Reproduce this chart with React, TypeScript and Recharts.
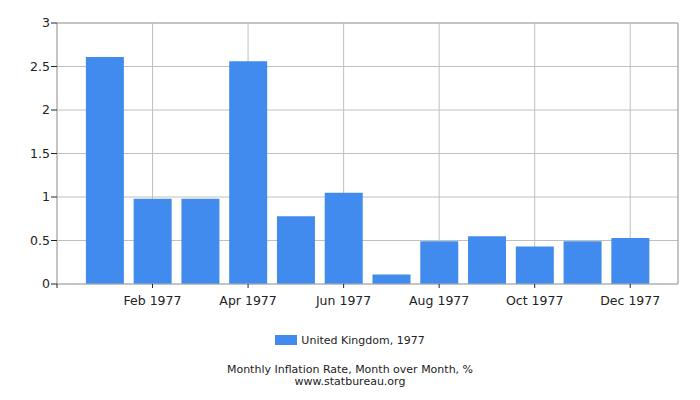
import React from "react";
import { BarChart, Bar, XAxis, YAxis, CartesianGrid, ReferenceLine } from "recharts";

const months = ["Jan", "Feb", "Mar", "Apr", "May", "Jun", "Jul", "Aug", "Sep", "Oct", "Nov", "Dec"];
const year = 1977;
const inflation = [2.61, 0.98, 0.98, 2.56, 0.78, 1.05, 0.11, 0.49, 0.55, 0.43, 0.49, 0.53];
const xTicks = [0, 2, 4, 6, 8, 10, 12];
const yTicks = [0, 0.5, 1, 1.5, 2, 2.5, 3];

const seriesName = "United Kingdom, 1977";
const title = "Monthly Inflation Rate, Month over Month, %";
const source = "www.statbureau.org";

const data = months.map((m, i) => ({ x: i + 1, month: m, value: inflation[i] }));

const FONT = "'DejaVu Sans', sans-serif";
const BAR = "#418bee";

export default function App() {
    const formatX = (v: number) => (v >= 1 && v <= 12 ? `${months[v - 1]} ${year}` : "");

    return (
        <div style={{ position: "absolute", left: 0, top: 0, width: 700, height: 400, background: "#fff", fontFamily: FONT }}>
            <BarChart
                width={700}
                height={400}
                data={data}
                margin={{ top: 23, right: 22, left: 7, bottom: 86 }}
                barSize={38}
            >
                <CartesianGrid stroke="#c0c0c0" />
                <XAxis
                    dataKey="x"
                    type="number"
                    domain={[0, 13]}
                    ticks={xTicks}
                    interval={0}
                    tickFormatter={formatX}
                    stroke="#aaa"
                    tickLine={{ stroke: "#222" }}
                    tickSize={4}
                    tickMargin={8}
                    height={30}
                    tick={{ fill: "#222", fontSize: 12.5, fontFamily: FONT }}
                />
                <YAxis
                    domain={[0, 3]}
                    ticks={yTicks}
                    interval={0}
                    stroke="#aaa"
                    tickLine={{ stroke: "#222" }}
                    tickSize={6}
                    tickMargin={1}
                    width={50}
                    tick={{ fill: "#222", fontSize: 12.5, fontFamily: FONT }}
                />
                <ReferenceLine x={13} stroke="#aaa" />
                <ReferenceLine y={3} stroke="#aaa" />
                <Bar dataKey="value" name={seriesName} fill={BAR} isAnimationActive={false} />
            </BarChart>
            <div style={{ position: "absolute", left: 0, top: 333, width: 700, height: 14, display: "flex", justifyContent: "center", alignItems: "center", fontSize: 11, color: "#222" }}>
                <span style={{ display: "inline-block", width: 22, height: 10, background: BAR, marginRight: 4 }} />
                <span>{seriesName}</span>
            </div>
            <div style={{ position: "absolute", left: 0, top: 364, width: 700, textAlign: "center", fontSize: 11, lineHeight: "12px", color: "#222" }}>
                <div>{title}</div>
                <div>{source}</div>
            </div>
        </div>
    );
}
